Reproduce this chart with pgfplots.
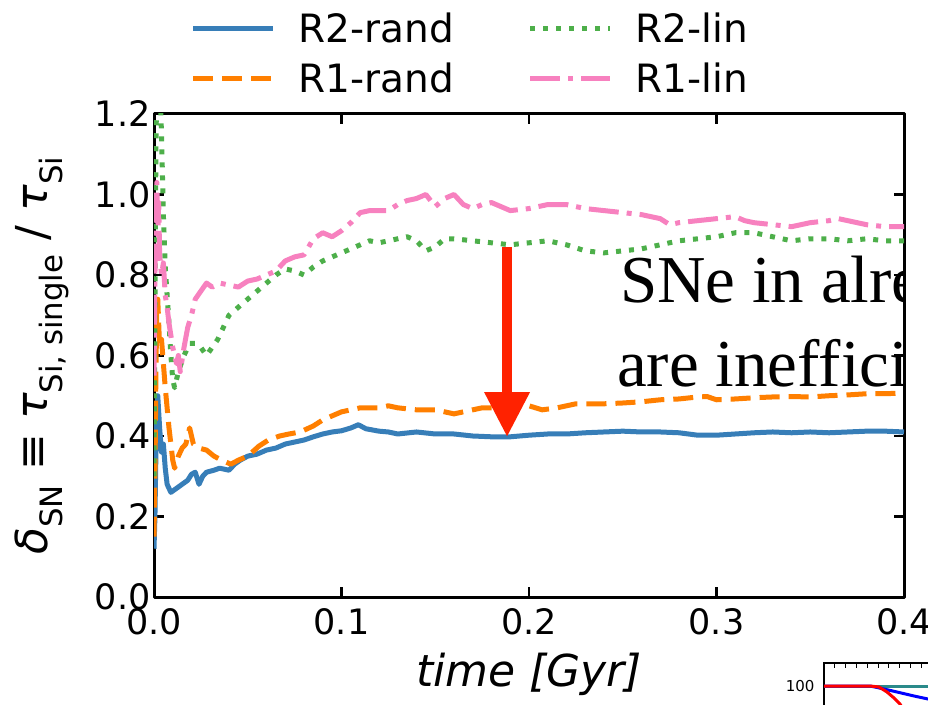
\documentclass[border=0pt]{standalone}
\usepackage{fontspec}
\setmainfont{DejaVu Sans}
\newfontfamily\timesfont{Liberation Serif}
\usepackage{pgfplots}
\pgfplotsset{compat=1.18}
\usetikzlibrary{arrows.meta}
\definecolor{cblue}{HTML}{377EB8}
\definecolor{corange}{HTML}{FF7F00}
\definecolor{cgreen}{HTML}{4DAF4A}
\definecolor{cpink}{HTML}{F781BF}
\definecolor{arrowred}{HTML}{FF2200}
\definecolor{cteal}{HTML}{2A8A8A}
\begin{document}
\begin{tikzpicture}
\begin{scope}
\clip (0pt,0pt) rectangle (928pt,704pt);
\begin{axis}[
  at={(154pt,107pt)}, anchor=south west, scale only axis,
  width=750pt, height=483pt,
  xmin=0, xmax=0.4, ymin=0, ymax=1.2,
  xtick={0,0.1,0.2,0.3,0.4}, ytick={0,0.2,0.4,0.6,0.8,1.0,1.2},
  tick align=inside, major tick length=10pt,
  axis line style={line width=3pt},
  tick style={line width=2.5pt, black},
  /pgf/number format/assume math mode=true,
  /pgf/number format/fixed, /pgf/number format/fixed zerofill, /pgf/number format/precision=1,
  ticklabel style={font=\fontsize{35}{42}\selectfont},
  xticklabel style={yshift=-8pt},
  xlabel={\itshape time [Gyr]},
  xlabel style={at={(axis description cs:0.5,-0.16)}, anchor=center, font=\fontsize{44}{52}\selectfont},
  ylabel={{\itshape δ}\textsubscript{SN} ≡ {\itshape τ}\textsubscript{Si, single} / {\itshape τ}\textsubscript{Si}},
  ylabel style={at={(axis description cs:-0.149,0.5)}, anchor=center, rotate=0, font=\fontsize{44}{52}\selectfont},
  legend columns=2, transpose legend,
  legend image code/.code={\draw[#1] (0pt,0pt) -- (80pt,0pt); \path[draw=none, fill=none] (80pt,0pt) -- (103pt,0pt);},
  legend style={at={(axis description cs:0.045,1.033)}, anchor=south west, draw=none, fill=none,
    font=\fontsize{39}{47}\selectfont, row sep=15pt,
    /tikz/every even column/.append style={column sep=72pt}},
  line join=round,
]
\addplot[cblue, line width=5pt] coordinates {
(0.0,0.12) (0.0005,0.2) (0.001,0.35) (0.0015,0.45) (0.002,0.50) (0.003,0.42) (0.004,0.36) (0.005,0.38)
(0.006,0.32) (0.007,0.28) (0.009,0.26) (0.012,0.27) (0.015,0.28) (0.018,0.29) (0.02,0.305) (0.022,0.31)
(0.024,0.28) (0.026,0.30) (0.028,0.31) (0.032,0.315) (0.035,0.32) (0.04,0.315) (0.043,0.33) (0.046,0.34)
(0.05,0.35) (0.055,0.355) (0.06,0.365) (0.065,0.37) (0.07,0.38) (0.075,0.385) (0.08,0.39) (0.085,0.398)
(0.09,0.405) (0.095,0.41) (0.1,0.413) (0.105,0.42) (0.109,0.428) (0.113,0.418) (0.12,0.412) (0.125,0.41)
(0.13,0.405) (0.14,0.41) (0.15,0.405) (0.16,0.405) (0.17,0.40) (0.18,0.398) (0.19,0.398) (0.2,0.402)
(0.21,0.405) (0.22,0.405) (0.23,0.408) (0.24,0.41) (0.25,0.412) (0.26,0.41) (0.27,0.41) (0.28,0.408)
(0.29,0.402) (0.3,0.402) (0.31,0.405) (0.32,0.408) (0.33,0.41) (0.34,0.408) (0.35,0.41) (0.36,0.408)
(0.37,0.41) (0.38,0.412) (0.39,0.412) (0.4,0.41)
};
\addlegendentry{R2-rand}
\addplot[corange, line width=5pt, dash pattern=on 20pt off 9pt] coordinates {
(0,0.15) (0.0005,0.3) (0.001,0.55) (0.0015,0.72) (0.002,0.74) (0.003,0.62) (0.004,0.64) (0.005,0.58)
(0.006,0.52) (0.007,0.47) (0.008,0.42) (0.009,0.38) (0.01,0.34) (0.011,0.32) (0.013,0.35) (0.015,0.37)
(0.017,0.38) (0.019,0.42) (0.021,0.38) (0.024,0.37) (0.028,0.365) (0.032,0.35) (0.036,0.34) (0.041,0.33)
(0.045,0.34) (0.05,0.35) (0.056,0.375) (0.061,0.39) (0.067,0.40) (0.072,0.405) (0.078,0.41) (0.085,0.425)
(0.09,0.44) (0.095,0.45) (0.1,0.46) (0.11,0.47) (0.12,0.47) (0.125,0.475) (0.13,0.47) (0.14,0.465)
(0.15,0.465) (0.16,0.455) (0.17,0.465) (0.175,0.47) (0.185,0.47) (0.195,0.475) (0.2,0.475) (0.207,0.465)
(0.215,0.47) (0.225,0.48) (0.24,0.48) (0.25,0.482) (0.26,0.485) (0.27,0.49) (0.28,0.492) (0.29,0.497)
(0.295,0.498) (0.3,0.49) (0.31,0.492) (0.32,0.495) (0.33,0.497) (0.34,0.498) (0.35,0.497) (0.36,0.5)
(0.37,0.502) (0.38,0.505) (0.39,0.505) (0.4,0.507)
};
\addlegendentry{R1-rand}
\addplot[cgreen, line width=5pt, dash pattern=on 5pt off 8pt] coordinates {
(0,0.3) (0.0005,0.7) (0.001,1.1) (0.0015,1.3) (0.003,1.3) (0.004,1.15) (0.005,0.95) (0.006,0.82)
(0.007,0.75) (0.008,0.68) (0.009,0.60) (0.01,0.54) (0.011,0.52) (0.013,0.56) (0.016,0.60) (0.019,0.63)
(0.022,0.63) (0.025,0.62) (0.028,0.60) (0.031,0.62) (0.034,0.64) (0.037,0.67) (0.04,0.70) (0.045,0.72)
(0.05,0.74) (0.055,0.76) (0.06,0.78) (0.065,0.80) (0.07,0.815) (0.075,0.81) (0.08,0.80) (0.085,0.82)
(0.09,0.835) (0.095,0.845) (0.1,0.855) (0.105,0.865) (0.11,0.875) (0.115,0.885) (0.12,0.88) (0.125,0.885)
(0.13,0.89) (0.135,0.895) (0.14,0.885) (0.145,0.86) (0.15,0.87) (0.155,0.89) (0.16,0.89) (0.17,0.885)
(0.18,0.88) (0.19,0.875) (0.2,0.88) (0.21,0.885) (0.22,0.875) (0.23,0.86) (0.24,0.855) (0.25,0.86)
(0.26,0.865) (0.27,0.875) (0.28,0.885) (0.29,0.89) (0.3,0.895) (0.31,0.905) (0.32,0.905) (0.33,0.895)
(0.34,0.885) (0.35,0.89) (0.36,0.89) (0.37,0.885) (0.38,0.89) (0.39,0.885) (0.4,0.885)
};
\addlegendentry{R2-lin}
\addplot[cpink, line width=5pt, dash pattern=on 30pt off 8pt on 5pt off 8pt] coordinates {
(0,0.55) (0.0005,0.8) (0.001,0.95) (0.0015,1.03) (0.002,0.9) (0.0025,0.98) (0.003,0.85) (0.004,0.80)
(0.005,0.83) (0.006,0.75) (0.007,0.72) (0.008,0.68) (0.009,0.65) (0.01,0.62) (0.012,0.58) (0.013,0.60)
(0.014,0.56) (0.016,0.62) (0.018,0.67) (0.02,0.70) (0.022,0.74) (0.025,0.76) (0.028,0.78) (0.031,0.77)
(0.035,0.78) (0.04,0.775) (0.045,0.77) (0.05,0.785) (0.055,0.79) (0.06,0.80) (0.065,0.81) (0.07,0.835)
(0.075,0.845) (0.08,0.85) (0.085,0.89) (0.09,0.905) (0.095,0.895) (0.1,0.91) (0.105,0.93) (0.11,0.955)
(0.115,0.96) (0.12,0.96) (0.125,0.96) (0.13,0.975) (0.135,0.985) (0.14,0.99) (0.145,1.0) (0.15,0.97)
(0.155,0.99) (0.16,1.0) (0.165,0.975) (0.17,0.965) (0.175,0.975) (0.18,0.98) (0.185,0.97) (0.19,0.96)
(0.2,0.965) (0.21,0.975) (0.22,0.975) (0.23,0.965) (0.24,0.96) (0.25,0.955) (0.26,0.95) (0.27,0.94)
(0.275,0.925) (0.28,0.93) (0.29,0.935) (0.3,0.94) (0.31,0.945) (0.315,0.935) (0.32,0.93) (0.33,0.925)
(0.34,0.92) (0.35,0.93) (0.36,0.935) (0.365,0.94) (0.37,0.935) (0.38,0.925) (0.39,0.92) (0.4,0.92)
};
\addlegendentry{R1-lin}
\draw[arrowred, line width=10pt, -{Triangle[width=43pt,length=45pt]}] (axis cs:0.1883,0.87) -- (axis cs:0.1883,0.3975);
\end{axis}
\begin{scope}
\clip (0pt,0pt) rectangle (903pt,704pt);
\node[anchor=base west, inner sep=0pt, font=\timesfont\fontsize{67}{84}\selectfont] at (620pt,401pt) {SNe in already};
\node[anchor=base west, inner sep=0pt, font=\timesfont\fontsize{67}{84}\selectfont] at (617pt,317pt) {are inefficient};
\end{scope}
\begin{axis}[
  at={(824pt,41pt)}, anchor=north west, scale only axis,
  width=300pt, height=200pt,
  xmin=0, xmax=300, ymin=-200, ymax=0,
  axis line style={line width=1.5pt},
  tick align=inside, major tick length=5pt,
  tick style={line width=1pt, black},
  xtick={0,10.8,...,300}, xticklabels={},
  ytick={-23}, yticklabels={100},
  yticklabel style={font=\fontsize{15}{18}\selectfont, xshift=-6pt},
]
\addplot[cteal, line width=3pt] coordinates {(0,-23) (300,-23)};
\addplot[blue, line width=3pt] coordinates {(0,-23) (46,-23) (60,-26) (73,-29) (90,-33) (104,-36) (120,-40)};
\addplot[red, line width=3pt] coordinates {(0,-23) (46,-23) (55,-24) (63,-29) (70,-35) (76,-41) (80,-48)};
\end{axis}
\end{scope}
\pgfresetboundingbox
\path[use as bounding box] (0pt,0pt) rectangle (928pt,704pt);
\end{tikzpicture}
\end{document}
